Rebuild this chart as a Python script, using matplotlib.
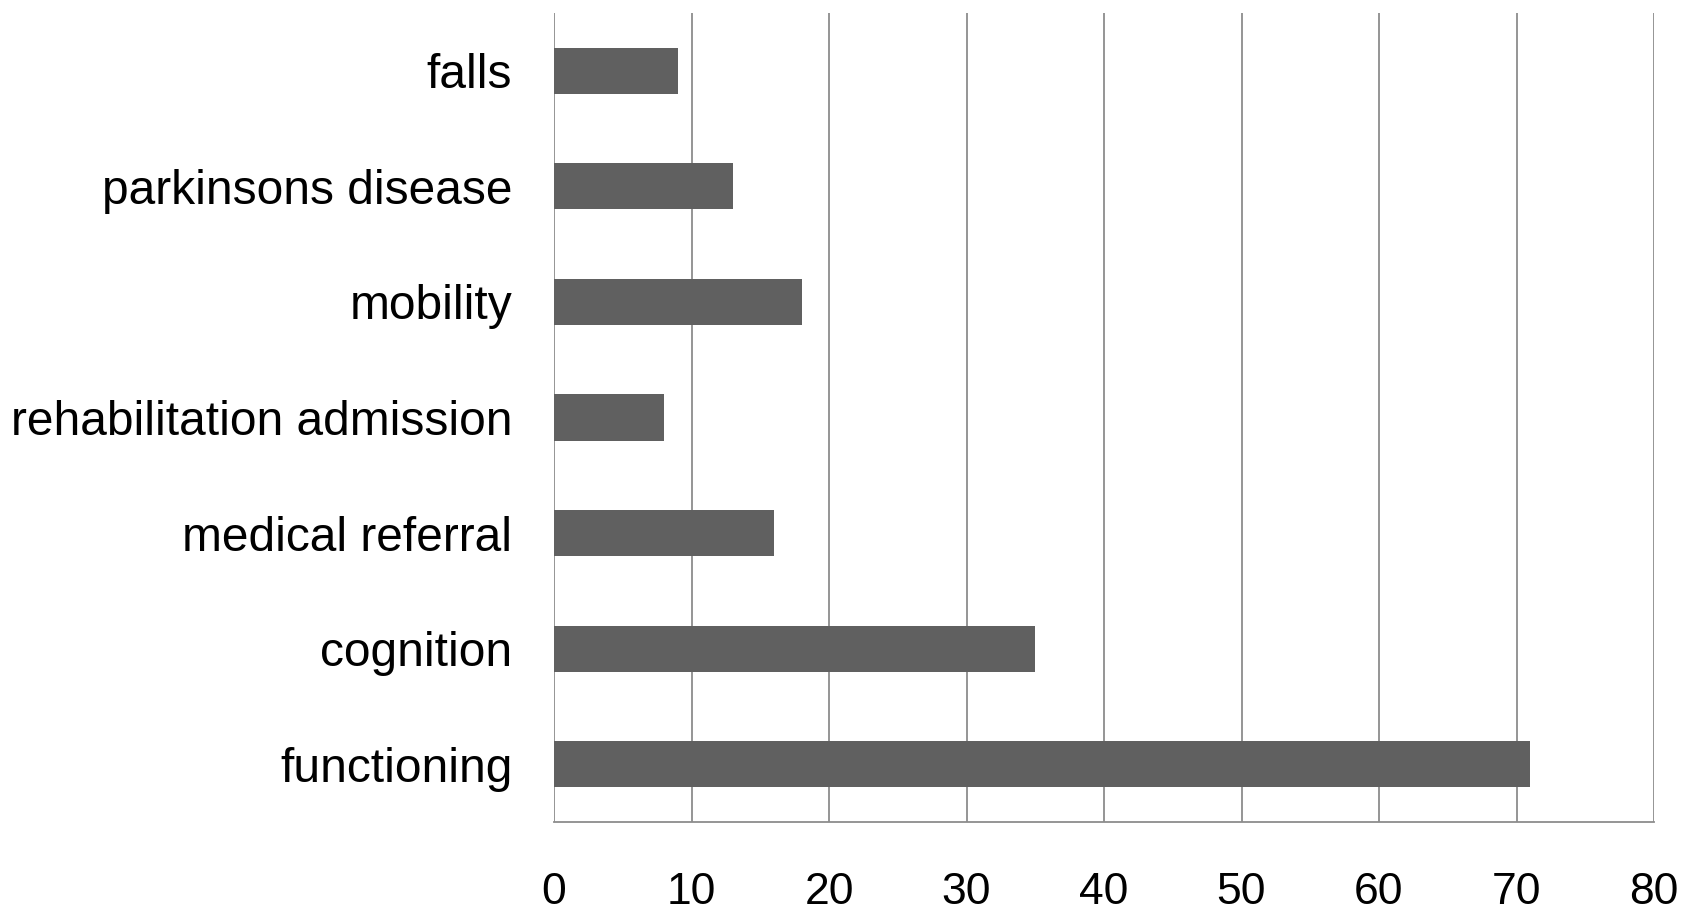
import matplotlib
matplotlib.use("Agg")
import matplotlib.pyplot as plt

categories = ["functioning", "cognition", "medical referral",
              "rehabilitation admission", "mobility", "parkinsons disease", "falls"]
counts = [71, 35, 16, 8, 18, 13, 9]
xticks = [0, 10, 20, 30, 40, 50, 60, 70, 80]

plt.rcParams["font.family"] = ["Liberation Sans", "DejaVu Sans"]

fig = plt.figure(figsize=(16.85, 9.14), dpi=100)
ax = fig.add_axes([554 / 1685, 1 - 822 / 914, 1100 / 1685, 809 / 914])

ypos = list(range(len(categories)))
ax.barh(ypos, counts, height=0.4, color="#606060", zorder=3)

ax.set_xlim(0, 80)
ax.set_ylim(-0.5, len(categories) - 0.5)
ax.set_xticks(xticks)
ax.set_xticklabels([str(t) for t in xticks])
ax.set_yticks(ypos)
ax.set_yticklabels(categories)

ax.grid(axis="x", color="#8c8c8c", linewidth=1.3, zorder=0)
for side in ("top", "right", "left"):
    ax.spines[side].set_visible(False)
ax.spines["bottom"].set_color("#8c8c8c")
ax.spines["bottom"].set_linewidth(1.3)

ax.tick_params(axis="x", length=0, pad=36, labelsize=32, labelcolor="black")
ax.tick_params(axis="y", length=0, pad=30, labelsize=34.5, labelcolor="black")

fig.savefig("out.png", dpi=100, facecolor="white")
